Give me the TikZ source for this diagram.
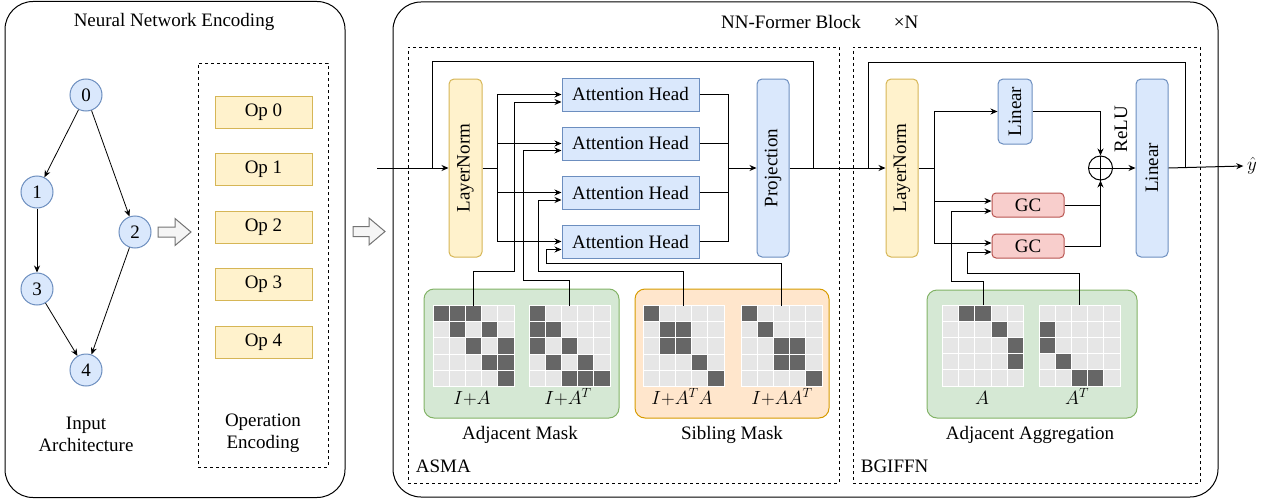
\RequirePackage{fix-cm}
\documentclass[tikz,border=0pt]{standalone}
\usepackage{fontspec}
\setmainfont{Liberation Serif}
\usepackage{graphicx}
\usepackage{xcolor}
\usetikzlibrary{arrows.meta,positioning,calc}

\definecolor{bluefill}{HTML}{DAE8FC}
\definecolor{blueline}{HTML}{6C8EBF}
\definecolor{yelfill}{HTML}{FFF2CC}
\definecolor{yelline}{HTML}{D6B656}
\definecolor{redfill}{HTML}{F8CECC}
\definecolor{redline}{HTML}{B85450}
\definecolor{grnfill}{HTML}{D5E8D4}
\definecolor{grnline}{HTML}{82B366}
\definecolor{orgfill}{HTML}{FFE6CC}
\definecolor{orgline}{HTML}{D79B00}
\definecolor{celllight}{HTML}{E6E6E6}
\definecolor{celldark}{HTML}{666666}

% 5x5 mask grid: name, centre, dark cells (row/col)
\newcommand{\maskgrid}[3]{%
  \node[gridbox] (#1) at (#2) {};
  \foreach \mr in {0,...,4}
    \foreach \mc in {0,...,4}
      \filldraw[fill=celllight, draw=white] ($(#1.north west)+(\mc*16.2,\mr*16.2)$) rectangle ++(16.2,16.2);
  \foreach \mr/\mc in {#3}
    \filldraw[fill=celldark, draw=white] ($(#1.north west)+(\mc*16.2,\mr*16.2)$) rectangle ++(16.2,16.2);
}

\begin{document}
\begin{tikzpicture}[x=1pt, y=-1pt, line width=1pt,
			every node/.style={font=\fontsize{19}{22}\selectfont},
			panel/.style={draw, rounded corners=28pt, line width=1pt},
			region/.style={draw, dash pattern=on 3pt off 3pt, line width=0.8pt},
			vnode/.style={circle, draw=blueline, fill=bluefill, minimum size=32pt, inner sep=0pt},
			opbox/.style={draw=yelline, fill=yelfill, minimum width=97pt, minimum height=32pt, inner sep=0pt},
			normbox/.style={draw=yelline, fill=yelfill, rounded corners=5pt, minimum width=33pt, minimum height=178pt, inner sep=0pt},
			headbox/.style={draw=blueline, fill=bluefill, minimum width=137pt, minimum height=33pt, inner sep=0pt},
			linbox/.style={draw=blueline, fill=bluefill, rounded corners=5pt, inner sep=0pt},
			gcbox/.style={draw=redline, fill=redfill, rounded corners=4pt, minimum width=72pt, minimum height=24pt, inner sep=0pt},
			maskbg/.style={rounded corners=10pt, line width=1pt, minimum height=129pt},
			gridbox/.style={minimum size=81pt, inner sep=0pt, outer sep=0pt},
			bigarrow/.style={draw=black!55, fill=black!4, line width=1pt},
			ar/.style={-{Stealth[length=7pt, width=6pt]}, line width=1pt}]
			\useasboundingbox (0,0) rectangle (1271,503);

			% neural network encoding
			\node[panel, minimum width=340pt, minimum height=496pt] (encpanel) at (175,249.5) {};
			\node (enctitle) at (174,22) {Neural Network Encoding};
			\node[vnode] (v0) at (86,95) {0};
			\node[vnode] (v1) at (37,192) {1};
			\node[vnode] (v2) at (135,232) {2};
			\node[vnode] (v3) at (37,289) {3};
			\node[vnode] (v4) at (86,370) {4};
			\draw[ar, line width=0.8pt] (v0) -- (v1);
			\draw[ar, line width=0.8pt] (v0) -- (v2);
			\draw[ar, line width=0.8pt] (v1) -- (v3);
			\draw[ar, line width=0.8pt] (v3) -- (v4);
			\draw[ar, line width=0.8pt] (v2) -- (v4);
			\node[align=center] (archlbl) at (86,434) {Input\\Architecture};
			\node[region, minimum width=130pt, minimum height=404pt] (opregion) at (263,265) {};
			\node[opbox] (op0) at (263.5,112) {Op 0};
			\node[opbox, below=24.5pt of op0] (op1) {Op 1};
			\node[opbox, below=24.5pt of op1] (op2) {Op 2};
			\node[opbox, below=24.5pt of op2] (op3) {Op 3};
			\node[opbox, below=24.5pt of op3] (op4) {Op 4};
			\node[align=center] (oplbl) at (263,433) {Operation\\Encoding};
			\draw[bigarrow] (158,227) -- ++(17,0) -- ++(0,-8.5) -- ++(16,13.5) -- ++(-16,13.5) -- ++(0,-8.5) -- ++(-17,0) -- cycle;
			\draw[bigarrow] (353,226.5) -- ++(16,0) -- ++(0,-8.5) -- ++(16,13.5) -- ++(-16,13.5) -- ++(0,-8.5) -- ++(-16,0) -- cycle;

			% nn-former block
			\node[panel, minimum width=825pt, minimum height=495pt] (blockpanel) at (805.5,249.5) {};
			\node (blocktitle) at (791,22) {NN-Former Block};
			\node (times) at (906,22) {×N};
			\node[region, minimum width=431pt, minimum height=436pt] (asma) at (623.5,265) {};
			\node[anchor=west] (asmalbl) at (412,466) {ASMA};
			\node[region, minimum width=347pt, minimum height=436pt] (bgiffn) at (1026.5,265) {};
			\node[anchor=west] (bgiffnlbl) at (857,466) {BGIFFN};

			% asma
			\node[normbox] (ln1) at (465.5,168) {\rotatebox{90}{LayerNorm}};
			\node[headbox] (h1) at (630.5,94.5) {Attention Head};
			\node[headbox, below=15pt of h1] (h2) {Attention Head};
			\node[headbox, below=15pt of h2] (h3) {Attention Head};
			\node[headbox, below=15pt of h3] (h4) {Attention Head};
			\node[linbox, minimum width=32pt, minimum height=178pt] (proj) at (773,168) {\rotatebox{90}{Projection}};
			\coordinate (xin) at (377,168);
			\coordinate (sp1) at (497,168);
			\coordinate (mg1) at (728,168);
			\coordinate (res1a) at (432,168);
			\coordinate (res1top) at (813,62);
			\coordinate (res1b) at (813,168);
			\draw[ar] (xin) -- (ln1.west);
			\draw (res1a) |- (res1top) -- (res1b);
			\draw (ln1.east) -- (sp1);
			\foreach \h in {h1,h2,h3,h4}{
				\draw[ar] (sp1) |- (\h.west);
				\draw (\h.east) -| (mg1);
			}
			\draw[ar] (mg1) -- (proj.west);

			\node[maskbg, draw=grnline, fill=grnfill, minimum width=195pt] (adjmask) at (521.5,353.5) {};
			\maskgrid{mIA}{473.5,346}{0/0,0/1,0/2,1/1,1/3,2/2,2/4,3/3,3/4,4/4}
			\maskgrid{mIAT}{569.5,346}{0/0,1/0,1/1,2/0,2/2,3/1,3/3,4/2,4/3,4/4}
			\node[anchor=base] (lIA) at (472,404) {$I{+}A$};
			\node[anchor=base] (lIAT) at (568,404) {$I{+}A^T$};
			\node (adjlbl) at (520,435) {Adjacent Mask};
			\node[maskbg, draw=orgline, fill=orgfill, minimum width=194pt] (sibmask) at (732,353.5) {};
			\maskgrid{mATA}{683.5,346}{0/0,1/1,1/2,2/1,2/2,3/3,4/4}
			\maskgrid{mAAT}{781.5,346}{0/0,1/1,2/2,2/3,3/2,3/3,4/4}
			\node[anchor=base] (lATA) at (682,404) {$I{+}A^TA$};
			\node[anchor=base] (lAAT) at (782,404) {$I{+}AA^T$};
			\node (siblbl) at (732,435) {Sibling Mask};
			\draw[ar] (mIA.north) |- (514,271) |- ($(h1.west)+(0,7.5)$);
			\draw[ar] (mIAT.north) |- (523,280) |- ($(h2.west)+(0,7)$);
			\draw[ar] (mATA.north) |- (538,271) |- ($(h3.west)+(0,7.5)$);
			\draw[ar] (mAAT.north) |- (546,263) |- ($(h4.west)+(0,8)$);

			% bgiffn
			\node[normbox, minimum width=32pt] (ln2) at (902,168) {\rotatebox{90}{LayerNorm}};
			\node[linbox, minimum width=34pt, minimum height=65pt] (lin1) at (1015,111.5) {\rotatebox{90}{Linear}};
			\node[gcbox] (gc1) at (1028,205) {GC};
			\node[gcbox, below=16pt of gc1] (gc2) {GC};
			\node[circle, draw, minimum size=24pt, inner sep=0pt] (plus) at (1100.5,168) {};
			\draw (plus.north) -- (plus.south) (plus.west) -- (plus.east);
			\node[rotate=90] (relu) at (1121,129) {ReLU};
			\node[linbox, minimum width=32pt, minimum height=178pt] (lin2) at (1152,168) {\rotatebox{90}{Linear}};
			\node (yhat) at (1252,166) {$\hat{y}$};
			\coordinate (sp2) at (934,168);
			\coordinate (res2a) at (868,168);
			\coordinate (res2top) at (1185,63);
			\coordinate (res2b) at (1185,168);
			\draw[ar] (proj.east) -- (ln2.west);
			\draw (res2a) |- (res2top) -- (res2b);
			\draw (ln2.east) -- (sp2);
			\draw[ar] (sp2) |- (lin1.west);
			\draw[ar] (sp2) |- ($(gc1.west)+(0,-4)$);
			\draw[ar] (sp2) |- ($(gc2.west)+(0,-3)$);
			\draw[ar] (lin1.east) -| (plus.north);
			\draw (gc1.east) -- (gc1.east -| plus.south);
			\draw[ar] (gc2.east) -| (plus.south);
			\draw[ar] (plus.east) -- (lin2.west);
			\draw[ar] (lin2.east) -- (yhat.west);

			\node[maskbg, draw=grnline, fill=grnfill, minimum width=210pt, minimum height=128pt] (aggmask) at (1032,354) {};
			\maskgrid{mA}{983,345.5}{0/1,0/2,1/3,2/4,3/4}
			\maskgrid{mAT}{1079.5,345.5}{1/0,2/0,3/1,4/2,4/3}
			\node[anchor=base] (lA) at (982,404) {$A$};
			\node[anchor=base] (lAT) at (1077,404) {$A^T$};
			\node (agglbl) at (1030,435) {Adjacent Aggregation};
			\draw[ar] (mA.north) |- (951,281) |- ($(gc1.west)+(0,6)$);
			\draw[ar] (mAT.north) |- (967,273) |- ($(gc2.west)+(0,6)$);
		\end{tikzpicture}
\end{document}
